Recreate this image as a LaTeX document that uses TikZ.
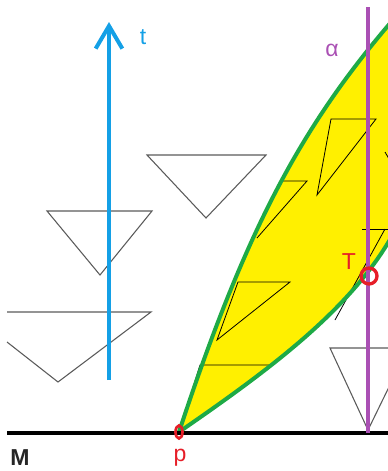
\documentclass[tikz,border=0pt]{standalone}
\usepackage{fontspec}
\setmainfont{Liberation Sans}
\usepackage{tikz}
\usetikzlibrary{arrows.meta,calc}
\usepackage{xcolor}
\definecolor{timeblue}{RGB}{20,160,230}
\definecolor{alphapurple}{RGB}{170,80,180}
\definecolor{leafgreen}{RGB}{30,170,70}
\definecolor{leafyellow}{RGB}{255,240,0}
\definecolor{markred}{RGB}{230,30,40}
\definecolor{trigray}{RGB}{90,90,90}

\begin{document}
\begin{tikzpicture}[x=0.75pt, y=-0.75pt, every node/.style={font=\LARGE},
    cone/.style={trigray, line width=0.8pt, line join=miter},
    conein/.style={black, line width=0.6pt}]
        \useasboundingbox (0,0) rectangle (388,471);

        % points
        \coordinate (p) at (179,432);
        \coordinate (Mleft) at (7,433);
        \coordinate (Mright) at (388,433);
        \coordinate (tbot) at (109,380);
        \coordinate (ttop) at (109,22);
        \coordinate (abot) at (368,433);
        \coordinate (atop) at (368,7);
        \coordinate (T) at (369,276);
        \coordinate (lefttop) at (392,21);
        \coordinate (rightend) at (392,236);

        % light cones outside the region
        \draw[cone] (147,155) -- (266,155) -- (206,218) -- cycle;
        \draw[cone] (47,211) -- (152,211) -- (100,275) -- cycle;
        \draw[cone] (7,312) -- (151,312) -- (58,382) -- (7,342);
        \begin{scope}
          \clip (0,0) rectangle (388,471);
          \draw[cone] (330,348) -- (408,348) -- (368,430) -- cycle;
        \end{scope}

        % the yellow region
        \begin{scope}
          \clip (0,0) rectangle (388,471);
          \fill[leafyellow] (p) .. controls (245,232) and (300,128) .. (lefttop)
            -- (400,10) -- (400,236) -- (rightend)
            .. controls (350,310) and (269,370) .. (p) -- cycle;

          % cones inside
          \draw[conein] (331,119) -- (376,119) -- (317,195) -- cycle;
          \draw[conein] (283,181) -- (307,181) -- (257,238);
          \draw[conein] (238,282) -- (290,282) -- (217,340) -- cycle;
          \draw[conein] (200,365) -- (273,365) -- (p) -- cycle;
          \draw[conein] (362,229) -- (390,229);
          \draw[conein] (385,229) -- (335,320);
          \draw[conein] (385,152) -- (392,164);

          % boundary
          \draw[leafgreen, line width=3pt] (p) .. controls (245,232) and (300,128) .. (lefttop);
          \draw[leafgreen, line width=3pt] (p) .. controls (269,370) and (350,310) .. (rightend);
        \end{scope}

        % manifold and axes
        \draw[black, line width=3pt] (Mleft) -- (Mright);
        \draw[timeblue, line width=3pt, -{Straight Barb[length=17pt, width=20pt]}] (tbot) -- (ttop);
        \draw[alphapurple, line width=3pt] (abot) -- (atop);

        % markers
        \draw[markred, line width=2pt] (p) ellipse (3.5 and 6.5);
        \draw[markred, line width=2.5pt] (T) circle (8);

        % labels
        \node[timeblue] (tlabel) at (143,37) {t};
        \node[alphapurple] (alabel) at (332,50) {α};
        \node[markred] (Tlabel) at (349,262) {T};
        \node[markred] (plabel) at (180,458) {p};
        \node[black!85, font=\LARGE\bfseries] (Mlabel) at (20,458) {M};
\end{tikzpicture}
\end{document}
